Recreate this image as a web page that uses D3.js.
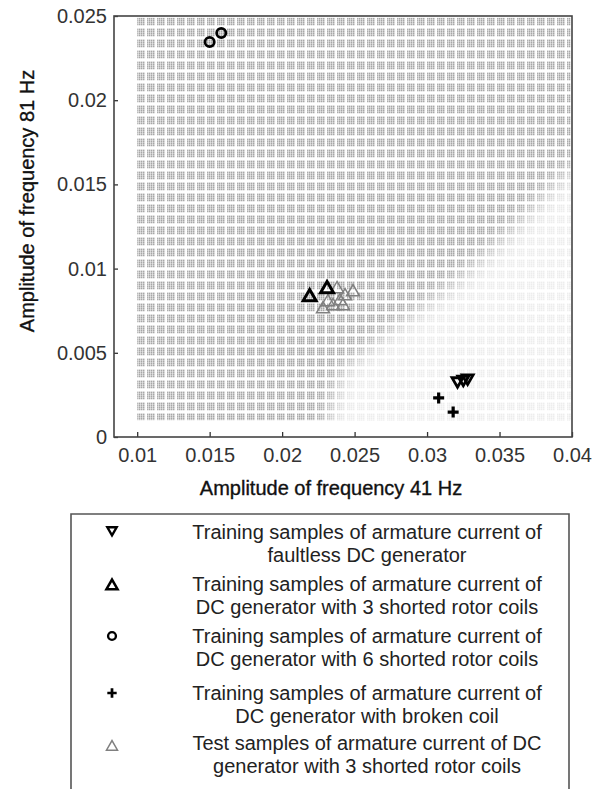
<!DOCTYPE html>
<html><head><meta charset="utf-8">
<script src="https://cdn.jsdelivr.net/npm/d3@7/dist/d3.min.js"></script>
<style>
html,body{margin:0;padding:0;background:#fff;}
svg{display:block;font-family:"Liberation Sans",Arial,sans-serif;}
</style></head>
<body>
<svg id="chart" width="604" height="789"></svg>
<script>
// ---- data ----
const xTicks = [0.01, 0.015, 0.02, 0.025, 0.03, 0.035, 0.04];
const xTickLabels = ["0.01","0.015","0.02","0.025","0.03","0.035","0.04"];
const yTicks = [0, 0.005, 0.01, 0.015, 0.02, 0.025];
const yTickLabels = ["0","0.005","0.01","0.015","0.02","0.025"];

const faultless = [[0.0321,0.00333],[0.0325,0.00342],[0.0328,0.00350]];
const shorted3 = [[0.0219,0.00831],[0.0231,0.00879]];
const shorted6 = [[0.0150,0.02346],[0.0158,0.02399]];
const broken = [[0.0308,0.00232],[0.0318,0.00148]];
const test3 = [[0.02379,0.00879],[0.02489,0.00861],[0.02316,0.00802],[0.02282,0.00760],
               [0.02399,0.00808],[0.02420,0.00778],[0.02351,0.00778],[0.02434,0.00837]];

// classification map: grid extent and class boundary
const gridX = [0.0100, 0.0399];
const gridY = [0.0010, 0.0249];
const boundary = [[0.0400,0.0160],[0.0359,0.0122],[0.0320,0.0091],[0.0275,0.0063],[0.0242,0.0040],[0.0232,0.0010]];

const legendItems = [
  {sym:"down", lines:["Training samples of armature current of","faultless DC generator"]},
  {sym:"up", lines:["Training samples of armature current of","DC generator with 3 shorted rotor coils"]},
  {sym:"circle", lines:["Training samples of armature current of","DC generator with 6 shorted rotor coils"]},
  {sym:"plus", lines:["Training samples of armature current of","DC generator with broken coil"]},
  {sym:"test", lines:["Test samples of armature current of DC","generator with 3 shorted rotor coils"]}
];

// ---- drawing ----
const svg = d3.select("#chart");
const x = d3.scaleLinear().domain([0.0084, 0.04]).range([114, 572]);
const y = d3.scaleLinear().domain([0, 0.025]).range([437, 16]);

const defs = svg.append("defs");
const pat = defs.append("pattern").attr("id","dots").attr("patternUnits","userSpaceOnUse")
  .attr("x",x(gridX[0])).attr("y",y(gridY[1])).attr("width",10).attr("height",11);
for (let i=0;i<4;i++) for (let j=0;j<4;j++)
  pat.append("rect").attr("x",i*2).attr("y",j*2).attr("width",1.3).attr("height",1.3).attr("fill","#7c7c7c");
defs.append("filter").attr("id","blur").attr("x","-30%").attr("y","-30%").attr("width","160%").attr("height","160%")
  .append("feGaussianBlur").attr("stdDeviation",10);
defs.append("clipPath").attr("id","gridclip").append("rect")
  .attr("x",x(gridX[0])).attr("y",y(gridY[1])).attr("width",x(gridX[1])-x(gridX[0])).attr("height",y(gridY[0])-y(gridY[1]));

svg.append("rect").attr("x",x(gridX[0])).attr("y",y(gridY[1]))
  .attr("width",x(gridX[1])-x(gridX[0])).attr("height",y(gridY[0])-y(gridY[1]))
  .attr("fill","url(#dots)");

const lightPoly = [[0.050,0.0175]].concat(boundary, [[0.0228,-0.005],[0.050,-0.005]]);
svg.append("g").attr("clip-path","url(#gridclip)")
  .append("path")
  .attr("d", d3.line().x(d=>x(d[0])).y(d=>y(d[1]))(lightPoly) + "Z")
  .attr("fill","#fff").attr("opacity",0.8).attr("filter","url(#blur)");

// axes
const gx = svg.append("g").attr("transform",`translate(0,${y(0)})`)
  .call(d3.axisBottom(x).tickValues(xTicks).tickFormat((d,i)=>xTickLabels[i]).tickSizeInner(-5).tickSizeOuter(0).tickPadding(11));
const gy = svg.append("g").attr("transform",`translate(${x.range()[0]},0)`)
  .call(d3.axisLeft(y).tickValues(yTicks).tickFormat((d,i)=>yTickLabels[i]).tickSizeInner(-4).tickSizeOuter(0).tickPadding(7));
[gx,gy].forEach(g=>{
  g.select(".domain").remove();
  g.selectAll(".tick line").attr("stroke","#333").attr("stroke-width",1.3);
  g.selectAll(".tick text").attr("font-size",20).attr("fill","#333").attr("font-family","Liberation Sans, Arial, sans-serif");
});
svg.append("rect").attr("x",x.range()[0]).attr("y",y.range()[1])
  .attr("width",x.range()[1]-x.range()[0]).attr("height",y.range()[0]-y.range()[1])
  .attr("fill","none").attr("stroke","#444").attr("stroke-width",1.6);

svg.append("text").attr("x",331).attr("y",495).attr("text-anchor","middle")
  .attr("font-size",20).attr("fill","#111").attr("stroke","#111").attr("stroke-width",0.35)
  .text("Amplitude of frequency 41 Hz");
svg.append("text").attr("transform","translate(34,201) rotate(-90)").attr("text-anchor","middle")
  .attr("font-size",20).attr("fill","#111").attr("stroke","#111").attr("stroke-width",0.35)
  .text("Amplitude of frequency 81 Hz");

// marker helpers
function tri(s, down){ // side length s, centroid at 0
  const h = s*Math.sqrt(3)/2;
  const p = down ? [[-s/2,-h/3],[s/2,-h/3],[0,2*h/3]] : [[-s/2,h/3],[s/2,h/3],[0,-2*h/3]];
  return "M"+p.map(q=>q.join(",")).join("L")+"Z";
}
function plus(a){ return `M${-a},0H${a}M0,${-a}V${a}`; }
function drawSym(g, type, cx, cy, scale){
  const k = scale||1;
  if (type==="down") g.append("path").attr("d",tri(11*k,true)).attr("transform",`translate(${cx},${cy})`)
      .attr("fill","none").attr("stroke","#000").attr("stroke-width",2.8*k);
  if (type==="up") g.append("path").attr("d",tri(13*k,false)).attr("transform",`translate(${cx},${cy})`)
      .attr("fill","none").attr("stroke","#000").attr("stroke-width",3*k);
  if (type==="test") g.append("path").attr("d",tri(13*k,false)).attr("transform",`translate(${cx},${cy})`)
      .attr("fill","none").attr("stroke","#808080").attr("stroke-width",1.5);
  if (type==="circle") g.append("circle").attr("cx",cx).attr("cy",cy).attr("r",4.6*k)
      .attr("fill","none").attr("stroke","#000").attr("stroke-width",2.8*k);
  if (type==="plus") g.append("path").attr("d",plus(5.5*k)).attr("transform",`translate(${cx},${cy})`)
      .attr("fill","none").attr("stroke","#000").attr("stroke-width",3.2*k);
}

const gm = svg.append("g");
test3.forEach(d=>drawSym(gm,"test",x(d[0]),y(d[1])));
shorted3.forEach(d=>drawSym(gm,"up",x(d[0]),y(d[1])));
shorted6.forEach(d=>drawSym(gm,"circle",x(d[0]),y(d[1])));
faultless.forEach(d=>drawSym(gm,"down",x(d[0]),y(d[1])));
broken.forEach(d=>drawSym(gm,"plus",x(d[0]),y(d[1])));

// legend
const lg = svg.append("g");
lg.append("path").attr("d","M71,800V514H569V800").attr("fill","none").attr("stroke","#555").attr("stroke-width",1.6);
const symY = [530,586,636,693,747];
const textY = [539,591,643,700,750];
legendItems.forEach((it,i)=>{
  drawSym(lg, it.sym, 112, symY[i], 0.85);
  it.lines.forEach((ln,j)=>{
    lg.append("text").attr("x",367).attr("y",textY[i]+j*23).attr("text-anchor","middle")
      .attr("font-size",20).attr("fill","#222").text(ln);
  });
});
</script>
</body></html>
